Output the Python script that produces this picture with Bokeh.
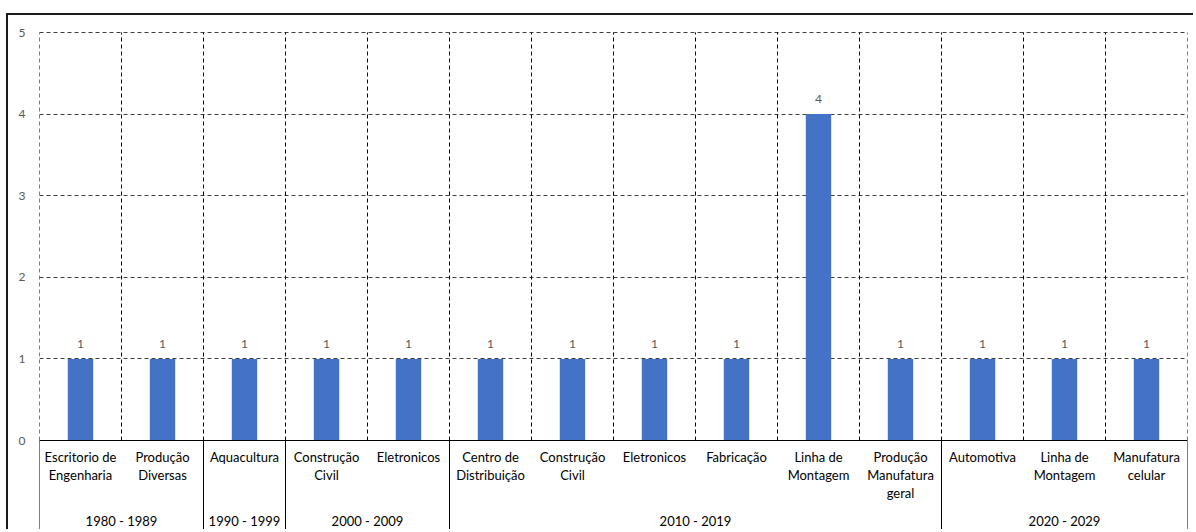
from bokeh.plotting import figure
from bokeh.models import FactorRange, Range1d, FixedTicker
from bokeh.embed import file_html
from bokeh.resources import INLINE
from bokeh.core.properties import value

# ---- data ----
groups = ["1980 - 1989", "1980 - 1989",
          "1990 - 1999",
          "2000 - 2009", "2000 - 2009",
          "2010 - 2019", "2010 - 2019", "2010 - 2019", "2010 - 2019", "2010 - 2019", "2010 - 2019",
          "2020 - 2029", "2020 - 2029", "2020 - 2029"]
categories = ["Escritorio de\nEngenharia", "Produção\nDiversas",
              "Aquacultura",
              "Construção\nCivil", "Eletronicos",
              "Centro de\nDistribuição", "Construção\nCivil", "Eletronicos", "Fabricação",
              "Linha de\nMontagem", "Produção\nManufatura\ngeral",
              "Automotiva", "Linha de\nMontagem", "Manufatura\ncelular"]
counts = [1, 1, 1, 1, 1, 1, 1, 1, 1, 4, 1, 1, 1, 1]
y_ticks = [0, 1, 2, 3, 4, 5]

# ---- derived ----
factors = list(zip(groups, categories))
group_names = list(dict.fromkeys(groups))

bounds = [[groups[0], categories[0], -0.5]] + [[g, c, 0.5] for g, c in factors]
group_bounds = []
for gname in group_names:
    i = groups.index(gname)
    group_bounds.append([groups[i], categories[i], -0.5])
group_bounds.append([groups[-1], categories[-1], 0.5])

FONT = "Lato"
LABEL_Y = -0.11
GROUP_Y = -0.99

x_range = FactorRange(*factors, range_padding=0, group_padding=0,
                      subgroup_padding=0, factor_padding=0)

p = figure(x_range=x_range, y_range=Range1d(-1.1152, 5.0123),
           width=1187, height=516, output_backend="svg", toolbar_location=None,
           x_axis_location=None,
           min_border_left=31, min_border_right=8, min_border_top=16, min_border_bottom=0,
           background_fill_color="white", border_fill_color="white",
           styles={"margin-top": "13px", "margin-left": "6px",
                   "border-top": "2px solid #1a1a1a", "border-left": "2px solid #1a1a1a"})
p.outline_line_color = None

# y axis
p.yaxis.ticker = FixedTicker(ticks=y_ticks)
p.yaxis.axis_line_color = None
p.yaxis.major_tick_line_color = None
p.yaxis.minor_tick_line_color = None
p.yaxis.major_tick_in = 0
p.yaxis.major_tick_out = 0
p.yaxis.major_label_standoff = 14
p.yaxis.major_label_text_color = "#595959"
p.yaxis.major_label_text_font = FONT
p.yaxis.major_label_text_font_size = "12px"

# grids
p.xgrid.grid_line_color = None
p.ygrid.ticker = FixedTicker(ticks=y_ticks[1:])
p.ygrid.grid_line_color = "#404040"
p.ygrid.grid_line_dash = "4 3"
p.ygrid.grid_line_width = 1

# vertical dashed grid at category boundaries
p.segment(x0=bounds, y0=y_ticks[0], x1=bounds, y1=y_ticks[-1],
          line_color="black", line_dash="4 3", line_width=1)

# bars
p.vbar(x=factors, top=counts, bottom=0, width=0.31, fill_color="#4472C4", line_color=None)

# data labels
p.text(x=factors, y=counts, text=[str(c) for c in counts],
       text_align="center", text_baseline="middle", y_offset=-15,
       text_font=value(FONT), text_font_size="12px", text_color="#595959")

# category axis line and group separators
p.segment(x0=[bounds[0]], y0=0, x1=[bounds[-1]], y1=0, line_color="black", line_width=1)
p.segment(x0=group_bounds, y0=0, x1=group_bounds, y1=-1.3, line_color="black", line_width=1)

# category labels
p.text(x=factors, y=LABEL_Y, text=categories,
       text_align="center", text_baseline="top", text_line_height=1.12,
       text_font=value(FONT), text_font_size="13px", text_color="#000000")

# group labels
p.text(x=group_names, y=GROUP_Y, text=group_names,
       text_align="center", text_baseline="middle",
       text_font=value(FONT), text_font_size="13px", text_color="#000000")

open("out.html", "w").write(file_html(p, INLINE))
